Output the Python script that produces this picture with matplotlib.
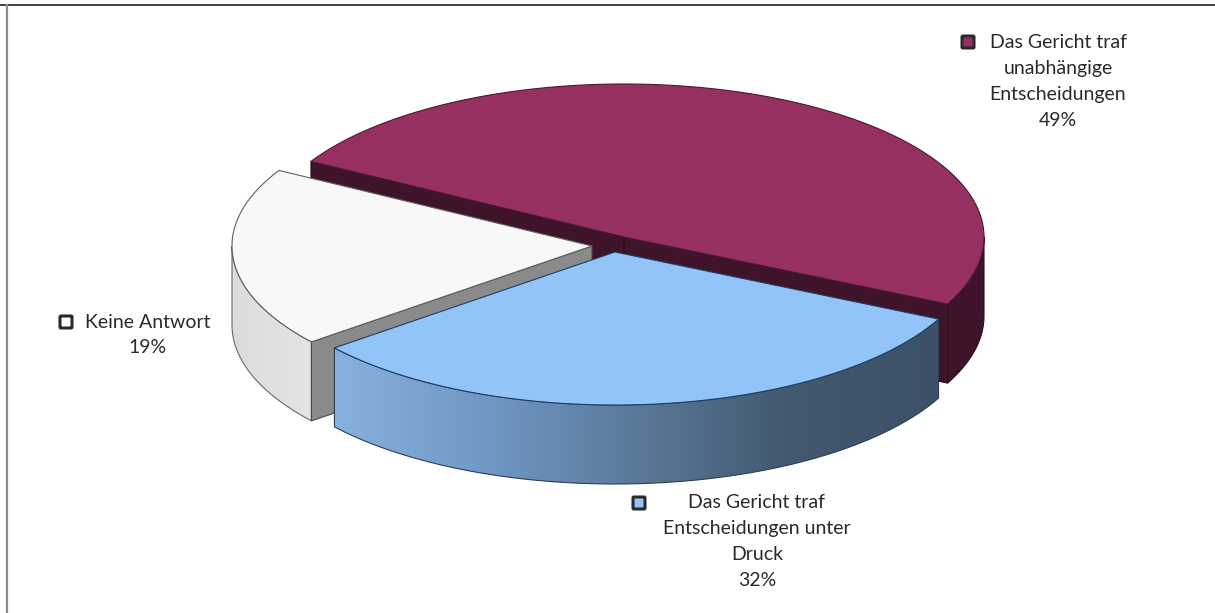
import numpy as np
import matplotlib
matplotlib.use("Agg")
import matplotlib.pyplot as plt
from matplotlib.colors import LinearSegmentedColormap
from matplotlib.patches import FancyBboxPatch, PathPatch, Polygon
from matplotlib.path import Path

# Survey shares, starting at the right-hand edge and going counter-clockwise
labels = ["Das Gericht traf\nunabhängige\nEntscheidungen",
          "Keine Antwort",
          "Das Gericht traf\nEntscheidungen unter\nDruck"]
shares = [49, 19, 32]

plt.rcParams["font.family"] = ["Lato", "DejaVu Sans"]

W, H = 1215, 613
fig = plt.figure(figsize=(W / 100, H / 100), dpi=100)
ax = fig.add_axes([0, 0, 1, 1])
ax.set_xlim(0, W)
ax.set_ylim(H, 0)
ax.axis("off")

# Ellipse of the tilted pie and height of the extruded side
RX, RY = 360, 153
DEPTH = 79
START = -26.0

# Slice angles from the shares
spans = [s / sum(shares) * 360 for s in shares]
a_maroon = (START, START + spans[0])
a_white = (a_maroon[1], a_maroon[1] + spans[1])
a_blue = (a_white[1], a_white[1] + spans[2])


def arc(c, t0, t1, n=200):
    t = np.radians(np.linspace(t0, t1, n))
    return np.column_stack([c[0] + RX * np.cos(t), c[1] - RY * np.sin(t)])


def poly(pts, fc, ec, z, lw=0.8):
    ax.add_patch(Polygon(pts, closed=True, fc=fc, ec=ec, lw=lw, zorder=z, joinstyle="round"))


def side_wall(c, t0, t1):
    top = arc(c, t0, t1)
    bottom = top + [0, DEPTH]
    return np.vstack([top, bottom[::-1]])


def radial_wall(c, t):
    edge = arc(c, t, t, 1)[0]
    return np.array([c, edge, edge + [0, DEPTH], np.array(c) + [0, DEPTH]])


def top_face(c, t0, t1):
    return np.vstack([[c], arc(c, t0, t1)])


def gradient_wall(pts, colors, z, ec):
    # vertical bands of colour clipped to the wall outline
    x0, x1 = pts[:, 0].min(), pts[:, 0].max()
    y0, y1 = pts[:, 1].min(), pts[:, 1].max()
    cmap = LinearSegmentedColormap.from_list("wall", colors)
    grad = np.linspace(0, 1, 512).reshape(1, -1)
    im = ax.imshow(grad, cmap=cmap, extent=(x0, x1, y1, y0), aspect="auto", zorder=z)
    clip = PathPatch(Path(np.vstack([pts, pts[:1]])), fc="none", ec=ec, lw=0.8, zorder=z + 0.1)
    ax.add_patch(clip)
    im.set_clip_path(clip)


# Maroon slice
c_m = (624, 237)
dark = "#3f1329"
poly(side_wall(c_m, a_maroon[0], 0), dark, "#2c0c1c", 1)
poly(radial_wall(c_m, a_maroon[1]), dark, "#2c0c1c", 1)
poly(radial_wall(c_m, a_maroon[0]), dark, "#2c0c1c", 1.2)
poly(top_face(c_m, *a_maroon), "#953060", "#4a1a33", 2)

# White slice
c_w = (592, 246)
gradient_wall(side_wall(c_w, 180, a_white[1]), ["#dcdcdc", "#e4e4e4"], 3, "#6a6a6a")
poly(radial_wall(c_w, a_white[1]), "#8a8a8a", "#4a4a4a", 3.5)
poly(top_face(c_w, *a_white), "#f8f8f8", "#606060", 4)

# Blue slice
c_b = (615, 252)
gradient_wall(side_wall(c_b, a_blue[0], a_blue[1]),
              ["#88b1dd", "#7098c4", "#5a7999", "#42596f", "#3d5067"], 5, "#2a3f55")
poly(top_face(c_b, *a_blue), "#93c4f7", "#1c3f66", 6)

# Labels with their key squares
text_color = "#2b2a2b"
label_pos = [(1058, 43), (148, 322), (757, 503)]
key_pos = [(968, 42), (66, 322), (639, 503)]
key_colors = ["#953060", "#ffffff", "#93c4f7"]
LINE = 25.8
for label, share, (x, y), (kx, ky), kc in zip(labels, shares, label_pos, key_pos, key_colors):
    lines = label.split("\n") + [f"{share}%"]
    for i, line in enumerate(lines):
        ax.text(x, y + i * LINE, line, ha="center", va="center", fontsize=14,
                color=text_color, zorder=8)
    ax.add_patch(FancyBboxPatch((kx - 6, ky - 6), 12, 12, boxstyle="round,pad=0,rounding_size=1",
                                fc=kc, ec="#2b2a2b", lw=2.2, zorder=8))

# Frame on the top and left edges only
ax.plot([0, W], [4.5, 4.5], color="#333333", lw=1.3, zorder=9, clip_on=False)
ax.plot([6.5, 6.5], [4.5, H], color="#8c8c8c", lw=1.6, zorder=9, clip_on=False)

ax.set_xlim(0, W)
ax.set_ylim(H, 0)
fig.savefig("out.png", dpi=100, facecolor="white")
